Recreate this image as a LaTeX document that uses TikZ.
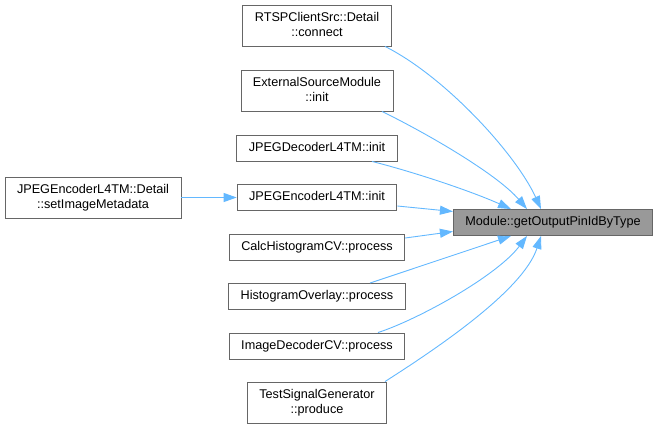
\documentclass[tikz,border=0pt]{standalone}
\usepackage{fontspec}
\setmainfont{Liberation Sans}
\usetikzlibrary{arrows.meta}
\definecolor{edgeblue}{HTML}{63B8FF}
\definecolor{boxgray}{HTML}{666666}
\definecolor{hilite}{HTML}{999999}
\begin{document}
\begin{tikzpicture}[x=1pt,y=-1pt,
  fn/.style={draw=boxgray, line width=0.9pt, fill=white, inner xsep=12pt, inner ysep=5.5pt,
    align=center, font=\fontsize{12.66pt}{15pt}\selectfont},
  hl/.style={fn, fill=hilite},
  edge/.style={draw=edgeblue, line width=0.9pt, -{Triangle[length=13pt,width=9pt]}}]
\useasboundingbox (0,0) rectangle (659,429);
\node[fn] (rtsp)   at (317,25.5)  {RTSPClientSrc::Detail\strut\\::connect\strut};
\node[fn] (ext)    at (317,90.5)  {ExternalSourceModule\strut\\::init\strut};
\node[fn] (jdec)   at (317,148)   {JPEGDecoderL4TM::init\strut};
\node[fn] (jenc)   at (317,197.5) {JPEGEncoderL4TM::init\strut};
\node[fn] (calc)   at (317,247)   {CalcHistogramCV::process\strut};
\node[fn] (hist)   at (317,296.5) {HistogramOverlay::process\strut};
\node[fn] (imgdec) at (317,346)   {ImageDecoderCV::process\strut};
\node[fn] (test)   at (317,402.5) {TestSignalGenerator\strut\\::produce\strut};
\node[fn] (meta)   at (93,197.5)  {JPEGEncoderL4TM::Detail\strut\\::setImageMetadata\strut};
\node[hl] (mod)    at (553,222.5) {Module::getOutputPinIdByType\strut};

\draw[edge] ([xshift=68pt]rtsp.south) .. controls +(60,30) and +(-25,-55) .. ([xshift=-12pt]mod.north);
\draw[edge] ([xshift=65pt]ext.south) .. controls +(45,22) and +(-30,-35) .. ([xshift=-26pt]mod.north);
\draw[edge] ([xshift=55pt]jdec.south) .. controls +(40,10) and +(-40,-18) .. ([xshift=-42pt]mod.north);
\draw[edge] ([yshift=-8.5pt]jenc.east) -- ([yshift=11pt]mod.west);
\draw[edge] ([yshift=9pt]calc.east) -- ([yshift=-9pt]mod.west);
\draw[edge] ([xshift=53pt]hist.north) -- ([xshift=-42pt]mod.south);
\draw[edge] ([xshift=61pt]imgdec.north) .. controls +(40,-13) and +(-30,40) .. ([xshift=-26pt]mod.south);
\draw[edge] ([xshift=68pt]test.north) .. controls +(50,-32) and +(-18,55) .. ([xshift=-12pt]mod.south);
\draw[edge] (meta.east) -- (jenc.west);
\end{tikzpicture}
\end{document}
